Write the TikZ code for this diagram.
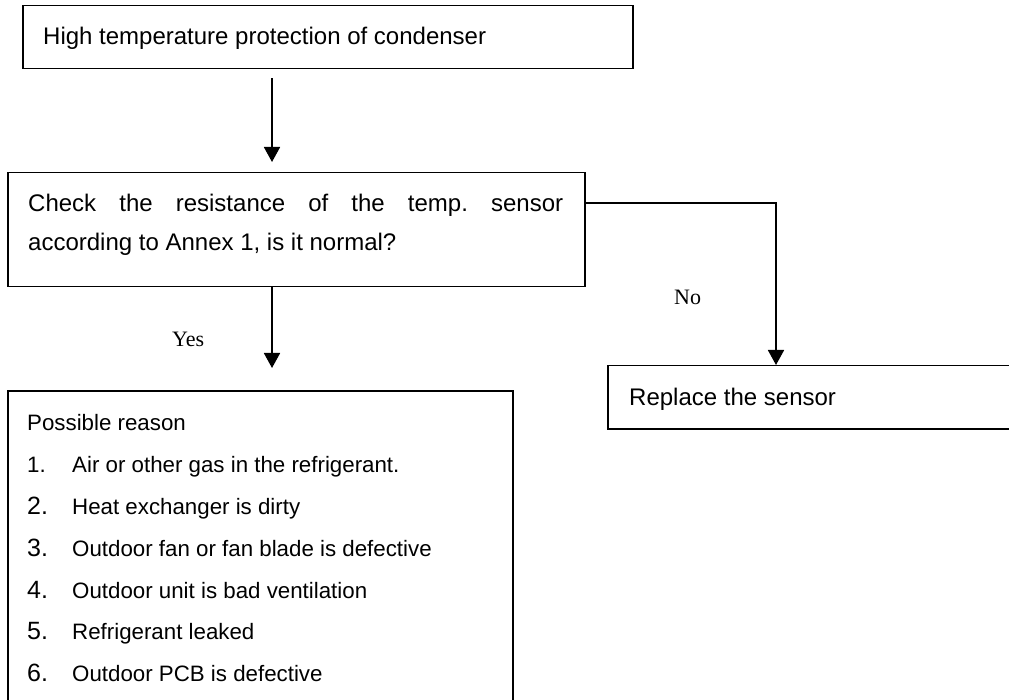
\documentclass[tikz,border=0pt]{standalone}
\usepackage{fontspec}
\setmainfont{Liberation Sans}
\newfontfamily\labelfont{Liberation Serif}
\usetikzlibrary{arrows.meta,calc}
\frenchspacing
\begin{document}
\begin{tikzpicture}[x=1pt,y=-1pt,
  box/.style={draw,line width=1.5pt,rectangle,inner sep=0pt,anchor=north west},
  txt/.style={inner sep=0pt,anchor=base west,font=\fontsize{24}{28}\selectfont},
  listtxt/.style={inner sep=0pt,anchor=base west,font=\fontsize{22.3}{26}\selectfont},
  bignum/.style={inner sep=0pt,anchor=base west,font=\fontsize{25}{28}\selectfont},
  branch/.style={inner sep=0pt,anchor=base west,font=\labelfont\fontsize{22}{26}\selectfont},
  flow/.style={line width=1.8pt,-{Triangle[width=16pt,length=15pt]}}]
\useasboundingbox (0,0) rectangle (1009,700);

% boxes
\node[box,minimum width=610pt,minimum height=63pt]  (top) at (22,5) {};
\node[box,minimum width=577pt,minimum height=114pt] (chk) at (7,172) {};
\node[box,minimum width=505pt,minimum height=330pt] (why) at (7,390) {};
\node[box,minimum width=420pt,minimum height=63pt]  (rep) at (607,365) {};

% box texts
\node[txt] (ttop) at (43,45) {High temperature protection of condenser};
\node[txt] (tchk1) at (28,212) {\makebox[535pt][s]{Check the resistance of the temp. sensor}};
\node[txt] (tchk2) at (28,251) {according to Annex 1, is it normal?};
\node[txt] (trep) at (629,406) {Replace the sensor};

\node[listtxt] (twhy) at (27,430) {Possible reason};
\node[listtxt] (n1) at (27,472) {1.};
\node[bignum]  (n2) at (27,514) {2.};
\node[bignum]  (n3) at (27,556) {3.};
\node[bignum]  (n4) at (27,598) {4.};
\node[bignum]  (n5) at (27,639) {5.};
\node[bignum]  (n6) at (27,681) {6.};
\node[listtxt] (r1) at (72,472) {Air or other gas in the refrigerant.};
\node[listtxt] (r2) at (72,514) {Heat exchanger is dirty};
\node[listtxt] (r3) at (72,556) {Outdoor fan or fan blade is defective};
\node[listtxt] (r4) at (72,598) {Outdoor unit is bad ventilation};
\node[listtxt] (r5) at (72,639) {Refrigerant leaked};
\node[listtxt] (r6) at (72,681) {Outdoor PCB is defective};

% branch labels
\node[branch] (yes) at (172,347) {Yes};
\node[branch] (no)  at (674,305) {No};

% connectors
\coordinate (ax) at (272,0);
\coordinate (nx) at (776,0);
\draw[flow,shorten <=9pt,shorten >=10pt] (top.south -| ax) -- (chk.north -| ax);
\draw[flow,shorten >=22pt] (chk.south -| ax) -- (why.north -| ax);
\draw[flow] ($(chk.north east)+(0,31)$) -| (rep.north -| nx);
\end{tikzpicture}
\end{document}
